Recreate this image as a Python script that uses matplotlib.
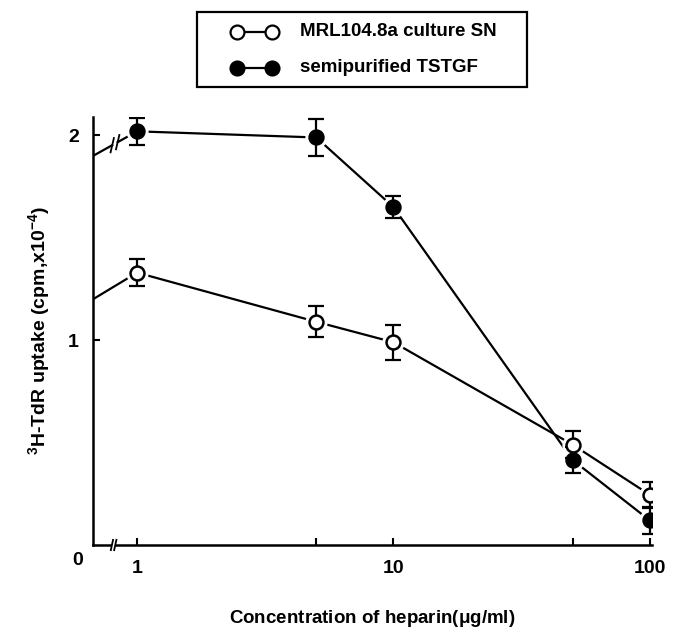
import numpy as np
import matplotlib
matplotlib.use('Agg')
import matplotlib.pyplot as plt
from matplotlib.lines import Line2D
from matplotlib.patches import Rectangle
from matplotlib.ticker import FixedLocator, NullFormatter

plt.rcParams['font.family'] = ['Liberation Sans', 'DejaVu Sans']
plt.rcParams['font.weight'] = 'bold'
plt.rcParams['axes.labelweight'] = 'bold'
plt.rcParams['mathtext.fontset'] = 'custom'
plt.rcParams['mathtext.rm'] = 'Liberation Sans:bold'
plt.rcParams['mathtext.it'] = 'Liberation Sans:bold'
plt.rcParams['mathtext.bf'] = 'Liberation Sans:bold'

# Data (heparin concentration, ug/ml)
doses = [1, 5, 10, 50, 100]
culture_sn_zero = 1.20
culture_sn = [1.33, 1.09, 0.99, 0.49, 0.245]
culture_sn_err = [0.065, 0.075, 0.085, 0.065, 0.065]
tstgf_zero = 1.90
tstgf = [2.02, 1.99, 1.65, 0.415, 0.12]
tstgf_err = [0.065, 0.09, 0.055, 0.065, 0.065]
series_labels = ['MRL104.8a culture SN', 'semipurified TSTGF']

W, H = 673, 635
fig = plt.figure(figsize=(W / 100, H / 100), dpi=100)
ax = fig.add_axes([93 / W, 1 - 545 / H, (652 - 93) / W, (545 - 117) / H])

x_left = 0.673   # where the zero-dose point sits (left edge of the axis)
ax.set_xscale('log')
ax.set_xlim(x_left, 102)
ax.set_ylim(0, 2.09)

lw = 1.6
ms = 10


def draw_series(zero_val, vals, errs, filled):
    xs = [x_left] + doses
    ys = [zero_val] + vals
    if filled:
        # gap with a break mark between the axis and the first dose
        ax.plot(xs[1:], ys[1:], color='black', lw=lw, zorder=1)
        xb0, xb1 = 0.80, 0.84
        yb0 = np.interp(np.log10(xb0), np.log10([x_left, 1]), [zero_val, vals[0]])
        yb1 = np.interp(np.log10(xb1), np.log10([x_left, 1]), [zero_val, vals[0]])
        ax.plot([x_left, xb0], [zero_val, yb0], color='black', lw=lw, zorder=1)
        ax.plot([xb1, 1], [yb1, vals[0]], color='black', lw=lw, zorder=1)
        for xb, yb in [(xb0, yb0), (xb1, yb1)]:
            ax.plot([xb * 0.985, xb * 1.015], [yb - 0.035, yb + 0.035], color='black', lw=1.3, zorder=1)
    else:
        ax.plot(xs, ys, color='black', lw=lw, zorder=1)
    # white halo so lines stop short of markers
    ax.plot(doses, vals, 'o', color='white', ms=ms + 5, zorder=2)
    ax.errorbar(doses, vals, yerr=errs, fmt='none', ecolor='black', elinewidth=lw,
                capsize=6, capthick=lw, zorder=3)
    ax.plot(doses, vals, 'o', ms=ms, mec='black', mew=1.8,
            mfc='black' if filled else 'white', zorder=4)


draw_series(culture_sn_zero, culture_sn, culture_sn_err, filled=False)
draw_series(tstgf_zero, tstgf, tstgf_err, filled=True)

# axes styling
for s in ['top', 'right']:
    ax.spines[s].set_visible(False)
for s in ['left', 'bottom']:
    ax.spines[s].set_linewidth(1.8)

ax.xaxis.set_major_locator(FixedLocator([1, 10, 100]))
ax.xaxis.set_minor_locator(FixedLocator([5, 50]))
ax.xaxis.set_minor_formatter(NullFormatter())
ax.set_xticklabels(['1', '10', '100'])
ax.set_yticks([1, 2])
ax.set_yticklabels(['1', '2'])
ax.tick_params(which='both', direction='in', length=5, width=1.5, labelsize=14)
ax.tick_params(axis='x', pad=11)
ax.tick_params(axis='y', pad=10)

# x-axis break
xbrk = 0.81
ax.add_patch(Rectangle((xbrk * 0.985, -0.02), xbrk * 0.03, 0.04, transform=ax.transData,
                       facecolor='white', edgecolor='none', clip_on=False, zorder=5))
for xb in [xbrk * 0.985, xbrk * 1.015]:
    ax.plot([xb * 0.99, xb * 1.01], [-0.025, 0.025], color='black', lw=1.3,
            clip_on=False, zorder=6)

ax.annotate('0', xy=(0, 0), xycoords='axes fraction', xytext=(-11, -11),
            textcoords='offset points', ha='center', va='center', fontsize=14)

ax.set_xlabel('Concentration of heparin($\\mu$g/ml)', fontsize=13.5, labelpad=22)
ax.set_ylabel('$^{3}$H-TdR uptake (cpm,x10$^{-4}$)', fontsize=14, labelpad=12)

# legend box drawn by hand
def px(x, y):
    return x / W, 1 - y / H

x0, y0 = px(197, 87)
x1, y1 = px(527, 12)
fig.add_artist(Rectangle((x0, y0), x1 - x0, y1 - y0, transform=fig.transFigure,
                         facecolor='none', edgecolor='black', lw=1.6))
for row_y, label, filled in [(32, series_labels[0], False), (68, series_labels[1], True)]:
    a = px(237, row_y)
    b = px(272, row_y)
    fig.add_artist(Line2D([a[0], b[0]], [a[1], b[1]], transform=fig.transFigure,
                          color='black', lw=lw, marker='o', ms=10, mec='black', mew=1.6,
                          mfc='black' if filled else 'white'))
    t = px(300, row_y)
    fig.text(t[0], t[1], label, ha='left', va='center', fontsize=13.5)

fig.savefig('out.png', dpi=100)
